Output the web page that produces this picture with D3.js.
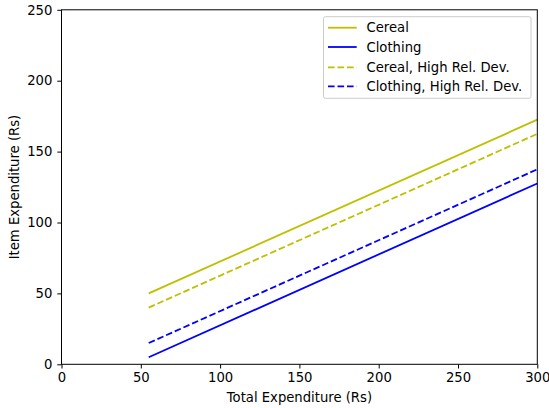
<!DOCTYPE html>
<html>
<head>
<meta charset="utf-8">
<script src="https://cdn.jsdelivr.net/npm/d3@7"></script>
<style>
  body { margin: 0; background: #fff; }
  svg { display: block; font-family: "DejaVu Sans", sans-serif; }
  .tick text { font-size: 13.2px; fill: #000; }
  .tick line, .domain { stroke: #000; }
</style>
</head>
<body>
<svg id="chart" width="549" height="408"></svg>
<script>
// endpoints of each line (total expenditure -> item expenditure)
const totalExp = [55, 300];
const cereal = [50, 172.5];
const clothing = [5, 127.5];
const cerealHigh = [40, 162.5];
const clothingHigh = [15, 137.5];

const xTicks = [0, 50, 100, 150, 200, 250, 300];
const yTicks = [0, 50, 100, 150, 200, 250];

const series = [
    { name: 'Cereal', values: cereal, color: '#bfbf00', dash: null },
    { name: 'Clothing', values: clothing, color: '#0000ff', dash: null },
    { name: 'Cereal, High Rel. Dev.', values: cerealHigh, color: '#bfbf00', dash: '6.6,2.9' },
    { name: 'Clothing, High Rel. Dev.', values: clothingHigh, color: '#0000ff', dash: '6.6,2.9' }
];

const svg = d3.select('#chart');
const margin = { left: 61.5, right: 549 - 537.3, top: 9.8, bottom: 408 - 364.3 };
const width = 549 - margin.left - margin.right;
const height = 408 - margin.top - margin.bottom;

const x = d3.scaleLinear().domain([0, 300]).range([0, width]);
const y = d3.scaleLinear().domain([0, 250]).range([height, 0]);

const g = svg.append('g').attr('transform', `translate(${margin.left},${margin.top})`);

const line = d3.line()
    .x((d, i) => x(totalExp[i]))
    .y(d => y(d));

g.selectAll('path.series')
    .data(series)
    .enter()
    .append('path')
    .attr('class', 'series')
    .attr('fill', 'none')
    .attr('stroke', d => d.color)
    .attr('stroke-width', 1.8)
    .attr('stroke-dasharray', d => d.dash)
    .attr('d', d => line(d.values));

// frame
g.append('rect')
    .attr('width', width)
    .attr('height', height)
    .attr('fill', 'none')
    .attr('stroke', '#000')
    .attr('stroke-width', 1);

const xAxis = g.append('g')
    .attr('transform', `translate(0,${height})`)
    .call(d3.axisBottom(x).tickValues(xTicks).tickSize(4.2).tickPadding(4.5).tickFormat(d3.format('d')));
const yAxis = g.append('g')
    .call(d3.axisLeft(y).tickValues(yTicks).tickSize(4.2).tickPadding(5).tickFormat(d3.format('d')));
[xAxis, yAxis].forEach(a => {
    a.attr('font-family', null).attr('font-size', null);
    a.select('.domain').remove();
});

svg.append('text')
    .attr('x', margin.left + width / 2)
    .attr('y', 401.5)
    .attr('text-anchor', 'middle')
    .attr('font-size', 13.2)
    .text('Total Expenditure (Rs)');

svg.append('text')
    .attr('transform', `translate(18.5,${margin.top + height / 2}) rotate(-90)`)
    .attr('text-anchor', 'middle')
    .attr('font-size', 13.2)
    .text('Item Expenditure (Rs)');

// legend
const legend = svg.append('g');
legend.append('rect')
    .attr('x', 323.5)
    .attr('y', 16.7)
    .attr('width', 531 - 323.5)
    .attr('height', 98.3 - 16.7)
    .attr('rx', 2)
    .attr('fill', '#fff')
    .attr('fill-opacity', 0.8)
    .attr('stroke', '#ccc')
    .attr('stroke-width', 1);

const rowY = [27.7, 47, 67.3, 86.3];
const items = legend.selectAll('g.item')
    .data(series)
    .enter()
    .append('g')
    .attr('class', 'item')
    .attr('transform', (d, i) => `translate(0,${rowY[i]})`);

items.append('line')
    .attr('x1', 328)
    .attr('x2', 356.7)
    .attr('stroke', d => d.color)
    .attr('stroke-width', 1.8)
    .attr('stroke-dasharray', d => d.dash);

items.append('text')
    .attr('x', 366.5)
    .attr('dy', '0.35em')
    .attr('font-size', 13.2)
    .text(d => d.name);
</script>
</body>
</html>
